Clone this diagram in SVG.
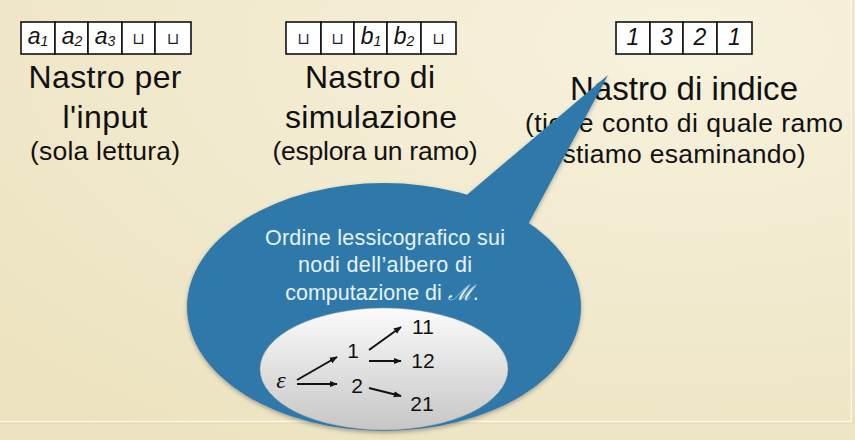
<svg xmlns="http://www.w3.org/2000/svg" width="855" height="440" viewBox="0 0 855 440">
  <defs>
    <radialGradient id="bg" cx="0.8" cy="0.1" r="1.1">
      <stop offset="0" stop-color="#f7f2dd"/>
      <stop offset="1" stop-color="#ece2bf"/>
    </radialGradient>
    <linearGradient id="inner" x1="0" y1="0" x2="0" y2="1">
      <stop offset="0" stop-color="#fbfbfb"/>
      <stop offset="1" stop-color="#c6c6c6"/>
    </linearGradient>
    <filter id="shadow" x="-10%" y="-10%" width="120%" height="125%">
      <feDropShadow dx="0" dy="2" stdDeviation="2" flood-color="#000" flood-opacity="0.3"/>
    </filter>
    <marker id="arr" viewBox="0 0 10 10" refX="9" refY="5" markerWidth="8" markerHeight="8" markerUnits="userSpaceOnUse" orient="auto">
      <path d="M0,1 L10,5 L0,9 z" fill="#111"/>
    </marker>
    <style>
      .cell { fill: #ffffff; stroke: #111; stroke-width: 1.6; }
      .sym { font-family: "Liberation Sans", Arial, sans-serif; font-style: italic; font-size: 23px; fill: #111; text-anchor: middle; }
      .sub { font-size: 14px; }
      .blank { font-family: "DejaVu Sans", sans-serif; font-size: 16px; fill: #1c1c3a; text-anchor: middle; }
      .title { font-family: "Liberation Sans", Arial, sans-serif; font-size: 32px; fill: #111; text-anchor: middle; }
      .subt { font-family: "Liberation Sans", Arial, sans-serif; font-size: 26.5px; fill: #111; text-anchor: middle; }
      .btext { font-family: "Liberation Sans", Arial, sans-serif; font-size: 21.5px; fill: #e6f2f9; text-anchor: middle; }
      .tree { font-family: "Liberation Sans", Arial, sans-serif; font-size: 21px; fill: #111; text-anchor: middle; }
      .edge { stroke: #111; stroke-width: 2; fill: none; marker-end: url(#arr); }
    </style>
  </defs>

  <rect x="0" y="0" width="855" height="440" fill="url(#bg)"/>
  <line x1="0" y1="423" x2="851" y2="423" stroke="#e2d8b4" stroke-width="1"/>
  <line x1="0" y1="421.5" x2="851.5" y2="421.5" stroke="#fbf8ea" stroke-width="1.5"/>
  <line x1="851.5" y1="0" x2="851.5" y2="421.5" stroke="#fbf8ea" stroke-width="1.5"/>
  <line x1="853" y1="0" x2="853" y2="423" stroke="#e2d8b4" stroke-width="1"/>

  <g id="tape-input">
    <rect class="cell" x="21" y="22" width="34" height="32"/>
    <rect class="cell" x="55" y="22" width="33" height="32"/>
    <rect class="cell" x="88" y="22" width="34" height="32"/>
    <rect class="cell" x="122" y="22" width="33" height="32"/>
    <rect class="cell" x="155" y="22" width="36" height="32"/>
    <text class="sym" x="38" y="44">a<tspan class="sub" dy="2">1</tspan></text>
    <text class="sym" x="72" y="44">a<tspan class="sub" dy="2">2</tspan></text>
    <text class="sym" x="105" y="44">a<tspan class="sub" dy="2">3</tspan></text>
    <text class="blank" x="138.5" y="44">⊔</text>
    <text class="blank" x="173" y="44">⊔</text>
    <text class="title" x="105" y="88" textLength="153">Nastro per</text>
    <text class="title" x="105" y="128" textLength="85">l'input</text>
    <text class="subt" x="105" y="160" textLength="150">(sola lettura)</text>
  </g>

  <g id="tape-simulation">
    <rect class="cell" x="286" y="22" width="35" height="32"/>
    <rect class="cell" x="321" y="22" width="33" height="32"/>
    <rect class="cell" x="354" y="22" width="33" height="32"/>
    <rect class="cell" x="387" y="22" width="34" height="32"/>
    <rect class="cell" x="421" y="22" width="35" height="32"/>
    <text class="blank" x="303.5" y="44">⊔</text>
    <text class="blank" x="337.5" y="44">⊔</text>
    <text class="sym" x="371" y="44">b<tspan class="sub" dy="2">1</tspan></text>
    <text class="sym" x="404" y="44">b<tspan class="sub" dy="2">2</tspan></text>
    <text class="blank" x="438.5" y="44">⊔</text>
    <text class="title" x="370" y="88" textLength="130">Nastro di</text>
    <text class="title" x="371" y="128" textLength="172">simulazione</text>
    <text class="subt" x="375" y="160" textLength="205">(esplora un ramo)</text>
  </g>

  <g id="tape-index">
    <rect class="cell" x="616" y="22" width="34" height="32"/>
    <rect class="cell" x="650" y="22" width="33" height="32"/>
    <rect class="cell" x="683" y="22" width="34" height="32"/>
    <rect class="cell" x="717" y="22" width="35" height="32"/>
    <text class="sym" x="633" y="45">1</text>
    <text class="sym" x="666.5" y="45">3</text>
    <text class="sym" x="700" y="45">2</text>
    <text class="sym" x="734.5" y="45">1</text>
    <text class="title" x="684" y="100" style="font-size:33px" textLength="228">Nastro di indice</text>
    <text class="subt" x="684" y="132" textLength="318">(tiene conto di quale ramo</text>
    <text class="subt" x="684" y="163" textLength="243">stiamo esaminando)</text>
  </g>

  <g id="callout">
    <g filter="url(#shadow)">
      <ellipse cx="384" cy="307" rx="197" ry="124" fill="#2e79aa"/>
      <polygon points="455,205 608,75 525,230" fill="#2e79aa"/>
    </g>
    <text class="btext" x="385" y="245" textLength="240">Ordine lessicografico sui</text>
    <text class="btext" x="385" y="272" textLength="174">nodi dell’albero di</text>
    <text class="btext" x="382" y="300">computazione di <tspan font-family="'DejaVu Serif', serif" font-style="italic">ℳ</tspan>.</text>
  </g>

  <g id="tree">
    <ellipse cx="384" cy="369" rx="124" ry="61" fill="url(#inner)" stroke="#a0a0a0" stroke-width="0.5"/>
    <text class="tree" x="281" y="388" style="font-family:'Liberation Serif', serif; font-style:italic; font-size:24px">ε</text>
    <text class="tree" x="353" y="358">1</text>
    <text class="tree" x="357" y="393">2</text>
    <text class="tree" x="423" y="334">11</text>
    <text class="tree" x="423" y="368">12</text>
    <text class="tree" x="422" y="411">21</text>
  </g>

  <g id="connectors">
    <line class="edge" x1="297" y1="380" x2="337" y2="357"/>
    <line class="edge" x1="297" y1="384" x2="337" y2="384"/>
    <line class="edge" x1="369" y1="350" x2="401" y2="327"/>
    <line class="edge" x1="369" y1="361" x2="401" y2="361"/>
    <line class="edge" x1="369" y1="388" x2="401" y2="396"/>
  </g>
</svg>
